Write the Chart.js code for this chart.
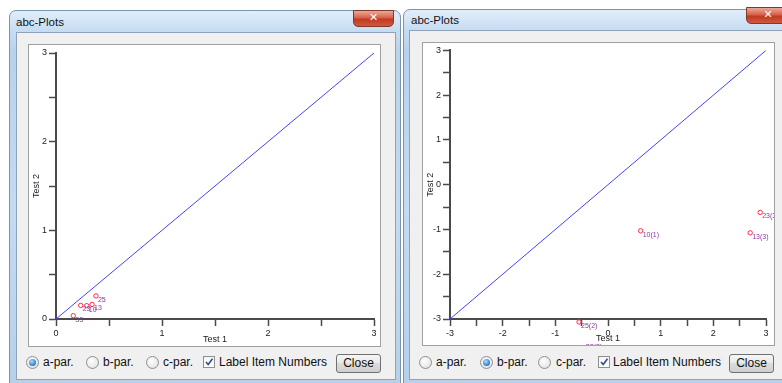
<!DOCTYPE html>
<html><head><meta charset="utf-8">
<script src="https://cdn.jsdelivr.net/npm/chart.js@4.4.1/dist/chart.umd.min.js"></script>
<style>
body{margin:0;width:782px;height:383px;overflow:hidden;background:#fff;font-family:"Liberation Sans",Arial,sans-serif;position:relative}
.win{position:absolute;border:1px solid #7a93ad;border-radius:7px 7px 0 0;background:linear-gradient(to bottom,#e2eefa 0,#c6dcf2 20px,#b9d2ec 40px,#c4daf1 200px,#b6d0ea 100%)}
.title{position:absolute;font-size:11.5px;color:#111;line-height:14px}
.xbtn{position:absolute;height:15px;border-radius:0 0 5px 5px;background:linear-gradient(#eaa898,#d8614a 45%,#c13a22 55%,#d0583e);border:1px solid #80382c;color:#fff;font-weight:bold;text-align:center;font-size:11px;line-height:14px;font-family:"DejaVu Sans",sans-serif}
.panel{position:absolute;background:#f0f0f0;border:1px solid #8ea3ba}
.plot{position:absolute;background:#fff;border:1px solid #a0a0a0}
canvas{position:absolute}
.txt{position:absolute;font-size:12px;color:#111;line-height:14px}
.radio{position:absolute;width:11px;height:11px;border-radius:50%;border:1px solid #8e8f8f;background:radial-gradient(circle at 40% 35%,#fff,#dcdcdc)}
.radio.on::after{content:"";position:absolute;left:2px;top:2px;width:7px;height:7px;border-radius:50%;background:radial-gradient(circle at 40% 35%,#a8dcff,#2a7bd0 70%,#1a5ca8)}
.chk{position:absolute;width:10px;height:10px;border:1px solid #8e8f8f;background:linear-gradient(#f4f4f4,#fff)}
.btn{position:absolute;height:17px;border:1px solid #707070;border-radius:3px;background:linear-gradient(#f6f6f6,#e8e8e8 50%,#dcdcdc 50%,#cfcfcf);font-size:12px;text-align:center;line-height:17px;color:#111}
</style>
</head><body>

<!-- left window -->
<div class="win" style="left:9px;top:10px;width:390px;height:380px"></div>
<div class="title" style="left:16px;top:15px">abc-Plots</div>
<div class="xbtn" style="left:353px;top:10px;width:39px">✕</div>
<div class="panel" style="left:16px;top:32px;width:378px;height:346px"></div>
<div class="plot" style="left:28px;top:44px;width:351px;height:301px"></div>
<canvas id="c1" width="351" height="301" style="left:29px;top:45px"></canvas>
<span class="radio on" style="left:26px;top:356px"></span><div class="txt" style="left:43px;top:355px">a-par.</div>
<span class="radio" style="left:86px;top:356px"></span><div class="txt" style="left:103px;top:355px">b-par.</div>
<span class="radio" style="left:146px;top:356px"></span><div class="txt" style="left:163px;top:355px">c-par.</div>
<span class="chk" style="left:203px;top:356px"><svg width="10" height="10" style="position:absolute;left:0;top:0"><path d="M2 5 L4.2 7.5 L8.5 1.8" stroke="#2b4e8c" stroke-width="1.6" fill="none"/></svg></span>
<div class="txt" style="left:219px;top:355px">Label Item Numbers</div>
<div class="btn" style="left:336px;top:354px;width:43px">Close</div>

<!-- right window -->
<div class="win" style="left:403px;top:9px;width:390px;height:380px"></div>
<div class="title" style="left:411px;top:13px">abc-Plots</div>
<div class="xbtn" style="left:746px;top:7px;width:42px">✕</div>
<div class="panel" style="left:409px;top:30px;width:380px;height:348px"></div>
<div class="plot" style="left:422px;top:42px;width:351px;height:302px"></div>
<canvas id="c2" width="351" height="302" style="left:423px;top:43px"></canvas>
<span class="radio" style="left:419px;top:356px"></span><div class="txt" style="left:436px;top:355px">a-par.</div>
<span class="radio on" style="left:480px;top:356px"></span><div class="txt" style="left:497px;top:355px">b-par.</div>
<span class="radio" style="left:538px;top:356px"></span><div class="txt" style="left:556px;top:355px">c-par.</div>
<span class="chk" style="left:598px;top:356px"><svg width="10" height="10" style="position:absolute;left:0;top:0"><path d="M2 5 L4.2 7.5 L8.5 1.8" stroke="#2b4e8c" stroke-width="1.6" fill="none"/></svg></span>
<div class="txt" style="left:613px;top:355px">Label Item Numbers</div>
<div class="btn" style="left:729px;top:354px;width:43px">Close</div>

<script>
// ---- data ----
const leftX = [0.377, 0.233, 0.29, 0.34, 0.163];
const leftY = [0.26, 0.153, 0.15, 0.164, 0.037];
const leftLabels = ['25', '23', '10', '13', '33'];
const leftRange = [0, 3];
const leftTickLabels = ['0', '1', '2', '3'];

const rightX = [0.62, 2.89, 2.70, -0.55, -0.46];
const rightY = [-1.03, -0.62, -1.075, -3.067, -3.54];
const rightLabels = ['10(1)', '23(3)', '13(3)', '25(2)', '33(2)'];
const rightRange = [-3, 3];
const rightTickLabels = ['-3', '-2', '-1', '0', '1', '2', '3'];

const xTitle = 'Test 1';
const yTitle = 'Test 2';

Chart.defaults.font.family = '"Liberation Sans", Arial, sans-serif';

const labelPlugin = {
  id: 'itemLabels',
  afterDatasetsDraw(chart) {
    const ds = chart.data.datasets[1];
    const meta = chart.getDatasetMeta(1);
    const ctx = chart.ctx;
    ctx.save();
    ctx.font = '7px "Liberation Sans", Arial, sans-serif';
    ctx.fillStyle = '#8a3a9e';
    ctx.textBaseline = 'middle';
    meta.data.forEach((el, i) => ctx.fillText(ds.itemLabels[i], el.x + 2, el.y + 4));
    ctx.restore();
  }
};

function makeChart(id, xs, ys, labels, range, tickLabels, yW, xH, pad) {
  const pts = xs.map((x, i) => ({x, y: ys[i]}));
  const tickCb = v => Number.isInteger(v) ? tickLabels[v - range[0]] : '';
  const axis = (title, isX) => ({
    type: 'linear', min: range[0], max: range[1],
    border: {display: true, color: '#4a4a4a', width: 2},
    grid: {drawOnChartArea: false, drawTicks: true, tickLength: 7, tickColor: '#4a4a4a', tickWidth: 1.5},
    ticks: {stepSize: 0.5, autoSkip: false, maxRotation: 0, padding: 2, color: '#222', font: {size: 9}, callback: tickCb},
    title: {display: true, text: title, color: '#222', font: {size: 9}, padding: isX ? {top: 0, bottom: 1} : {top: 2, bottom: 0}},
    afterFit: isX ? (s => { s.height = xH; }) : (s => { s.width = yW; })
  });
  return new Chart(document.getElementById(id), {
    type: 'scatter',
    data: {datasets: [
      {data: [{x: range[0], y: range[0]}, {x: range[1], y: range[1]}], showLine: true, borderColor: '#4444f4', borderWidth: 1, pointRadius: 0},
      {data: pts, itemLabels: labels, pointRadius: 2.2, pointBorderColor: '#ff2a4a', pointBackgroundColor: 'rgba(0,0,0,0)', pointBorderWidth: 1, clip: false}
    ]},
    options: {
      responsive: false, animation: false, devicePixelRatio: 1,
      layout: {padding: pad},
      plugins: {legend: {display: false}, tooltip: {enabled: false}},
      scales: {x: axis(xTitle, true), y: axis(yTitle, false)}
    },
    plugins: [labelPlugin]
  });
}

makeChart('c1', leftX, leftY, leftLabels, leftRange, leftTickLabels, 27, 27, {left: 0, top: 8, right: 6, bottom: 0});
makeChart('c2', rightX, rightY, rightLabels, rightRange, rightTickLabels, 27, 26, {left: 0, top: 7, right: 8, bottom: 0});
</script>
</body></html>
